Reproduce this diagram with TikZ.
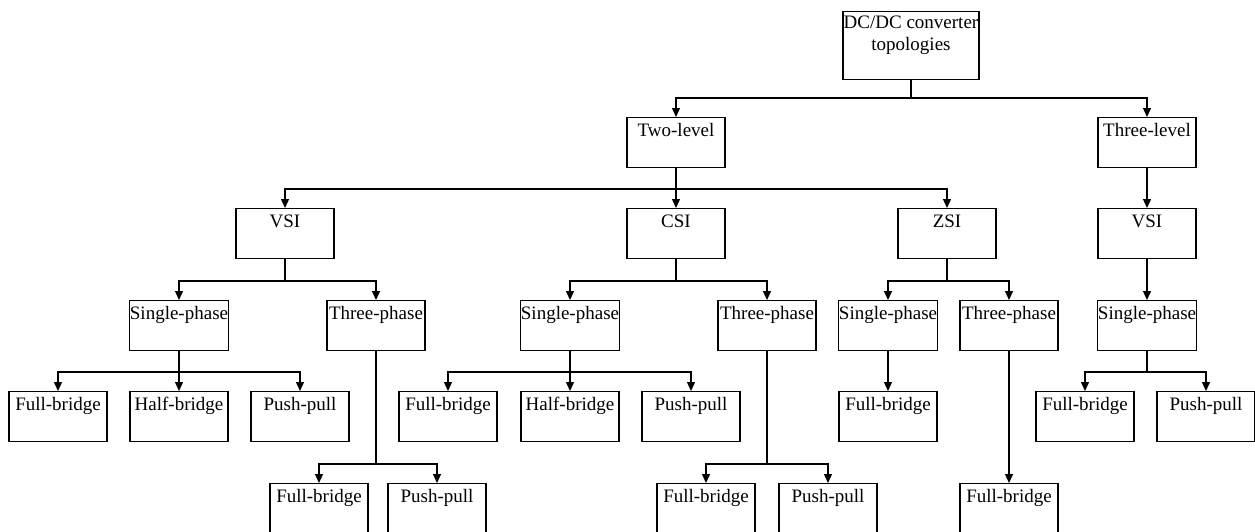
\documentclass[tikz,border=0pt]{standalone}
\usepackage{fontspec}
\setmainfont{Liberation Serif}
\usetikzlibrary{arrows.meta}
\tikzset{
  bx/.style={draw=black, line width=1.1pt, rectangle, anchor=north, inner sep=0pt,
    minimum width=98pt, text height=19pt, text depth=31pt, align=center,
    font=\fontsize{19}{22}\selectfont},
  rootbx/.style={draw=black, line width=1.1pt, rectangle, anchor=north, inner sep=0pt,
    minimum width=136pt, text height=17pt, text depth=51pt,
    font=\fontsize{19}{22}\selectfont},
  arr/.style={line width=1.3pt, -{Triangle[width=8pt,length=9pt]}},
}
\newcommand{\conn}[2]{\draw[arr] (#1.south) |- ([yshift=19pt]#2.north) -- (#2.north);}
\begin{document}
\begin{tikzpicture}[x=1pt,y=-1pt]
\useasboundingbox (0,0) rectangle (1255,531);
% root
\node[rootbx] (root) at (911,11) {\parbox[t]{136pt}{\centering DC/DC converter\\[0pt]topologies}};
% level 1
\node[bx] (two) at (676,117) {Two-level};
\node[bx] (three) at (1147,117) {Three-level};
% level 2
\node[bx] (vsi) at (285,208) {VSI};
\node[bx] (csi) at (676,208) {CSI};
\node[bx] (zsi) at (947,208) {ZSI};
\node[bx] (vsit) at (1147,208) {VSI};
% level 3
\node[bx] (vsp) at (179,300) {Single-phase};
\node[bx] (vtp) at (376,300) {Three-phase};
\node[bx] (csp) at (570,300) {Single-phase};
\node[bx] (ctp) at (767,300) {Three-phase};
\node[bx] (zsp) at (888,300) {Single-phase};
\node[bx] (ztp) at (1009,300) {Three-phase};
\node[bx] (tsp) at (1147,300) {Single-phase};
% level 4
\node[bx] (vspfb) at (58,391) {Full-bridge};
\node[bx] (vsphb) at (179,391) {Half-bridge};
\node[bx] (vsppp) at (300,391) {Push-pull};
\node[bx] (cspfb) at (448,391) {Full-bridge};
\node[bx] (csphb) at (570,391) {Half-bridge};
\node[bx] (csppp) at (691,391) {Push-pull};
\node[bx] (zspfb) at (888,391) {Full-bridge};
\node[bx] (tspfb) at (1085,391) {Full-bridge};
\node[bx] (tsppp) at (1206,391) {Push-pull};
% level 5
\node[bx] (vtpfb) at (319,483) {Full-bridge};
\node[bx] (vtppp) at (437,483) {Push-pull};
\node[bx] (ctpfb) at (706,483) {Full-bridge};
\node[bx] (ctppp) at (828,483) {Push-pull};
\node[bx] (ztpfb) at (1009,483) {Full-bridge};
% connectors
\conn{root}{two}\conn{root}{three}
\conn{two}{vsi}\conn{two}{csi}\conn{two}{zsi}
\draw[arr] (three.south) -- (vsit.north);
\conn{vsi}{vsp}\conn{vsi}{vtp}
\conn{csi}{csp}\conn{csi}{ctp}
\conn{zsi}{zsp}\conn{zsi}{ztp}
\draw[arr] (vsit.south) -- (tsp.north);
\conn{vsp}{vspfb}\conn{vsp}{vsphb}\conn{vsp}{vsppp}
\conn{csp}{cspfb}\conn{csp}{csphb}\conn{csp}{csppp}
\draw[arr] (zsp.south) -- (zspfb.north);
\conn{tsp}{tspfb}\conn{tsp}{tsppp}
\conn{vtp}{vtpfb}\conn{vtp}{vtppp}
\conn{ctp}{ctpfb}\conn{ctp}{ctppp}
\draw[arr] (ztp.south) -- (ztpfb.north);
\end{tikzpicture}
\end{document}
